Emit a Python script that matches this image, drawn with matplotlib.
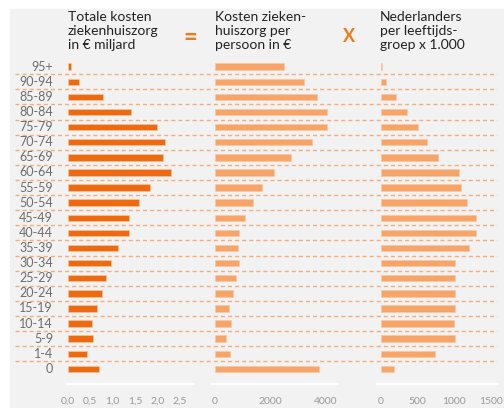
import matplotlib
matplotlib.use("Agg")
import matplotlib.pyplot as plt
from matplotlib.patches import Rectangle

# age groups, top to bottom
groups = ["95+", "90-94", "85-89", "80-84", "75-79", "70-74", "65-69", "60-64", "55-59",
          "50-54", "45-49", "40-44", "35-39", "30-34", "25-29", "20-24", "15-19", "10-14",
          "5-9", "1-4", "0"]
# total hospital costs, billion euro
total_cost = [0.07, 0.25, 0.79, 1.42, 2.0, 2.17, 2.12, 2.30, 1.83, 1.59, 1.36, 1.36,
              1.13, 0.97, 0.86, 0.76, 0.65, 0.54, 0.57, 0.42, 0.70]
# costs per person, euro
cost_pp = [2490, 3210, 3690, 4020, 4050, 3510, 2750, 2140, 1710, 1360, 1070, 880,
           820, 880, 745, 640, 520, 580, 410, 555, 3740]
# people per age group x 1000
people = [22, 72, 213, 358, 507, 630, 783, 1073, 1096, 1182, 1291, 1304,
          1196, 1010, 1010, 1019, 1019, 996, 1010, 747, 190]

W, H = 504, 408
dark_orange = "#ee6a10"
light_orange = "#f6a467"

plt.rcParams["font.family"] = ["Lato", "DejaVu Sans"]
fig = plt.figure(figsize=(W / 100, H / 100), dpi=100, facecolor="white")

# grey panel
fig.patches.append(Rectangle((10 / W, 0), (W - 10) / W, (H - 9) / H,
                             transform=fig.transFigure, color="#f2f2f2", zorder=-5))

row0, step = 66.7, 15.11
top_px, bot_px = 58, 384.3
ylim = ((bot_px - row0) / step, (top_px - row0) / step)


def px_axes(left, right):
    return fig.add_axes([left / W, (H - bot_px) / H, (right - left) / W, (bot_px - top_px) / H])


# background axes for row labels and dashed separators
bg = px_axes(0, W)
bg.set_xlim(0, W)
bg.set_ylim(*ylim)
bg.axis("off")
bg.patch.set_alpha(0)
for i in range(len(groups) - 1):
    bg.plot([15, 497], [i + 0.5, i + 0.5], color="#f2ad7c", lw=1.0,
            ls=(0, (2.9, 2.2)), solid_capstyle="butt", zorder=1)
for i, g in enumerate(groups):
    bg.text(53, i, g, ha="right", va="center", fontsize=9, color="#6e6e6e")

y = list(range(len(groups)))
panels = [
    (67, 193, 68, 44.6, total_cost, dark_orange, [0, 0.5, 1, 1.5, 2, 2.5],
     ["0,0", "0,5", "1,0", "1,5", "2,0", "2,5"]),
    (212, 338, 215, 0.02775, cost_pp, light_orange, [0, 2000, 4000], ["0", "2000", "4000"]),
    (377, 498, 380.5, 0.0736, people, light_orange, [0, 500, 1000, 1500],
     ["0", "500", "1000", "1500"]),
]
for left, right, zero, scale, vals, col, ticks, labels in panels:
    ax = px_axes(left, right)
    ax.patch.set_alpha(0)
    ax.barh(y, vals, height=0.43, color=col, edgecolor="#f8c8a0", linewidth=0.4, zorder=3)
    ax.set_xlim((left - zero) / scale, (right - zero) / scale)
    ax.set_ylim(*ylim)
    for s in ["top", "right", "left"]:
        ax.spines[s].set_visible(False)
    ax.spines["bottom"].set_color("white")
    ax.spines["bottom"].set_linewidth(1.6)
    ax.set_yticks([])
    ax.set_xticks(ticks, labels)
    ax.tick_params(axis="x", length=0, pad=9, labelsize=7.5, labelcolor="#999999")

# headers
title_kw = dict(va="top", ha="left", fontsize=10, color="#222222", linespacing=1.22)
fig.text(68 / W, 1 - 11 / H, "Totale kosten\nziekenhuiszorg\nin € miljard", **title_kw)
fig.text(215 / W, 1 - 11 / H, "Kosten zieken-\nhuiszorg per\npersoon in €", **title_kw)
fig.text(380 / W, 1 - 11 / H, "Nederlanders\nper leeftijds-\ngroep x 1.000", **title_kw)
fig.text(190 / W, 1 - 37 / H, "=", ha="center", va="center", fontsize=17,
         fontweight="bold", color="#f07a1a")
fig.text(349 / W, 1 - 37 / H, "X", ha="center", va="center", fontsize=13,
         fontweight="bold", color="#f07a1a")

fig.savefig("out.png", dpi=100, facecolor="white")
